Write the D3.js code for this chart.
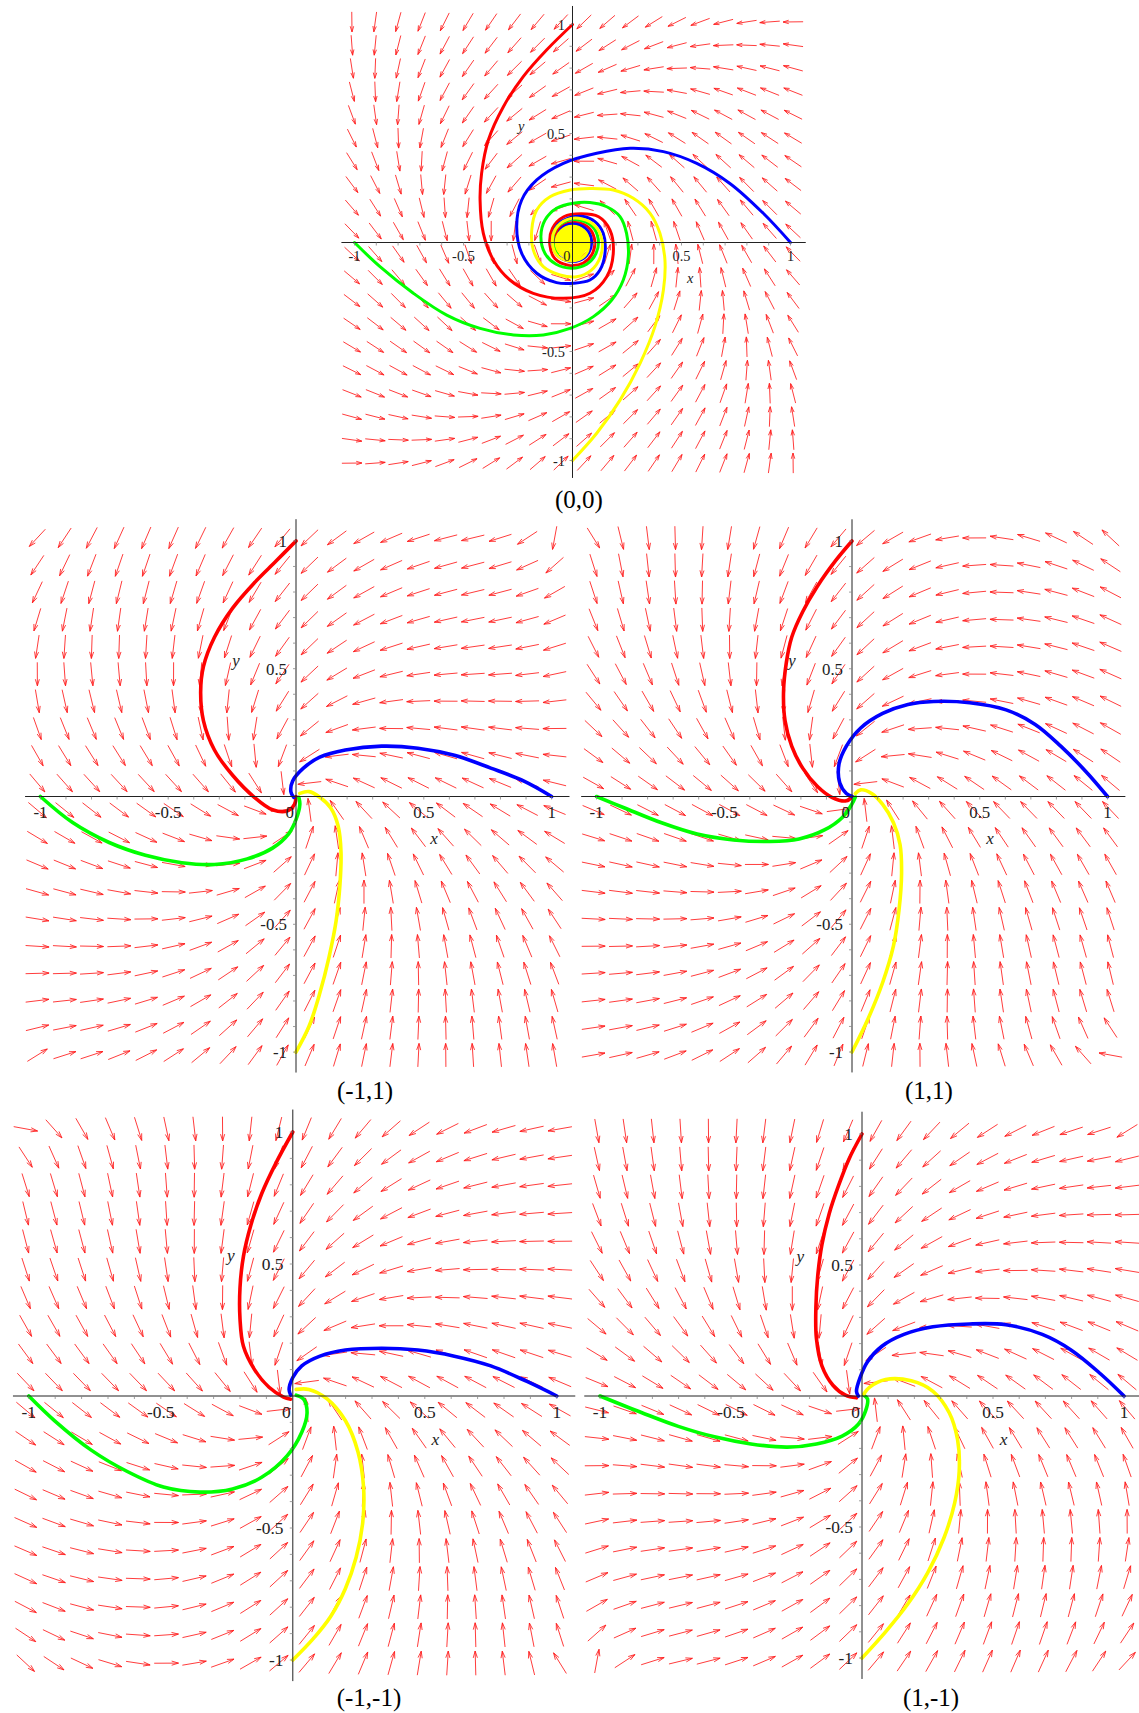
<!DOCTYPE html>
<html><head><meta charset="utf-8">
<script src="https://cdn.jsdelivr.net/npm/d3@7"></script>
<style>body{margin:0;background:#fff}</style>
</head><body>
<svg id="chart" width="1139" height="1713"></svg>
<script>
// ================= DATA =================
const captions = ["(0,0)", "(-1,1)", "(1,1)", "(-1,-1)", "(1,-1)"];
// quarter turns that map the (1,1) field onto each panel (panel 0 uses its own coefficients)
const quarterTurns = [null, 1, 0, 2, 3];
const xTickValues = [-1, -0.5, 0, 0.5, 1];
const xTickText = ["-1", "-0.5", "0", "0.5", "1"];
const yTickValues = [-1, -0.5, 0.5, 1];
const yTickText = ["-1", "-0.5", "0.5", "1"];
// direction-field sample positions (20 x 20)
const gridValues = [-1.012,-0.905,-0.799,-0.692,-0.586,-0.479,-0.373,-0.266,-0.160,-0.053,
                    0.053,0.160,0.266,0.373,0.479,0.586,0.692,0.799,0.905,1.012];
// field of panel (0,0):  monomials [x, y, x^2, xy, y^2, x^3, x^2y, xy^2, y^3]
const p0CoefX = [0, -1, 0, 0, 0, -1, 0, 0, 0];
const p0CoefY = [1, 0, 0, 0, 0, 0, 0, 0, -1];
// arrow directions (1,1): [x, y, angle deg]
const obsP2 = [
[0.05,1,225],[0.16,1,205],[0.27,1,195],[0.37,1,188],[0.48,1,182],[0.58,1,178],[0.69,1,165],[0.8,1,155],[0.91,1,150],
[0.05,0.48,222],[0.16,0.48,205],[0.27,0.48,193],[0.37,0.48,185],[0.48,0.48,180],[0.58,0.48,175],[0.69,0.48,165],[0.8,0.48,155],
[0.05,0.17,235],[0.16,0.17,190],[0.27,0.17,180],[0.37,0.17,170],[0.48,0.17,165],[0.58,0.17,160],[0.69,0.17,155],[0.8,0.17,145],
[0.16,0.05,165],[0.27,0.05,150],[0.37,0.05,150],[0.48,0.05,148],[0.58,0.05,145],[0.69,0.05,145],[0.8,0.05,145],
[0.05,-0.05,100],[0.16,-0.05,110],[0.27,-0.05,120],[0.37,-0.05,125],[0.48,-0.05,130],[0.58,-0.05,130],[0.69,-0.05,130],[0.8,-0.05,130],
[0.05,-0.27,60],[0.16,-0.27,75],[0.27,-0.27,85],[0.37,-0.27,95],[0.48,-0.27,100],[0.58,-0.27,105],[0.69,-0.27,110],[0.8,-0.27,115],
[0.05,-0.58,65],[0.16,-0.58,78],[0.27,-0.58,85],[0.37,-0.58,93],[0.48,-0.58,98],[0.58,-0.58,102],[0.69,-0.58,107],[0.8,-0.58,112],
[0.05,-0.8,65],[0.16,-0.8,78],[0.27,-0.8,85],[0.37,-0.8,92],[0.48,-0.8,97],[0.58,-0.8,100],[0.69,-0.8,105],[0.8,-0.8,110],
[-1,0.05,-38],[-0.8,0.05,-35],[-0.58,0.05,-35],[-0.37,0.05,-30],[-0.16,0.05,-30],
[-1,-0.16,-25],[-0.8,-0.16,-22],[-0.58,-0.16,-15],[-0.37,-0.16,-5],[-0.16,-0.16,10],
[-1,-0.27,-15],[-0.8,-0.27,-12],[-0.58,-0.27,-5],[-0.37,-0.27,5],[-0.16,-0.27,35],
[-1,-0.48,-5],[-0.8,-0.48,-3],[-0.58,-0.48,0],[-0.37,-0.48,15],[-0.16,-0.48,45],
[-1,-0.8,10],[-0.8,-0.8,12],[-0.58,-0.8,18],[-0.37,-0.8,30],[-0.16,-0.8,50],
[-1,1,-75],[-0.8,1,-80],[-0.58,1,-85],[-0.37,1,-95],[-0.27,1,-110],[-0.16,1,-120],
[-1,0.58,-55],[-0.8,0.58,-60],[-0.58,0.58,-70],[-0.37,0.58,-85],[-0.27,0.58,-95],[-0.16,0.58,-105],
[-1,0.16,-35],[-0.8,0.16,-38],[-0.58,0.16,-45],[-0.37,0.16,-60],[-0.27,0.16,-75],[-0.16,0.16,-90]
];
// arrow directions (-1,1)
const obsP1 = [
[0.05,0.99,225],[0.16,0.99,215],[0.26,0.99,210],[0.37,0.99,205],[0.48,0.99,205],[0.58,0.99,200],[0.69,0.99,198],[0.8,0.99,195],
[0.05,0.58,230],[0.16,0.58,215],[0.26,0.58,200],[0.37,0.58,192],[0.48,0.58,188],[0.58,0.58,185],[0.69,0.58,183],[0.8,0.58,182],
[0.05,0.37,230],[0.16,0.37,210],[0.26,0.37,190],[0.37,0.37,185],[0.48,0.37,180],[0.58,0.37,180],[0.69,0.37,180],[0.8,0.37,178],
[0.16,0.16,190],[0.26,0.16,172],[0.37,0.16,170],[0.48,0.16,168],[0.8,0.16,160],
[-1,-0.05,-40],[-0.7,-0.05,-35],[-0.38,-0.05,-25],[-0.17,-0.05,-20],
[-1,-0.15,-35],[-0.8,-0.15,-30],[-0.59,-0.15,-25],[-0.38,-0.15,-10],[-0.28,-0.15,-5],[-0.17,-0.15,5],
[-1,-0.26,-30],[-0.8,-0.26,-25],[-0.59,-0.26,-15],[-0.38,-0.26,-5],[-0.28,-0.26,5],[-0.17,-0.26,20],
[-1,-0.36,-20],[-0.8,-0.36,-15],[-0.59,-0.36,-8],[-0.49,-0.36,-3],[-0.38,-0.36,5],[-0.28,-0.36,20],[-0.17,-0.36,35],
[-1,-0.47,-12],[-0.8,-0.47,-8],[-0.59,-0.47,-3],[-0.38,-0.47,10],[-0.28,-0.47,25],[-0.17,-0.47,40],
[-1,-0.58,-5],[-0.8,-0.58,0],[-0.59,-0.58,5],[-0.38,-0.58,15],[-0.28,-0.58,30],[-0.17,-0.58,45],
[-1,-0.79,5],[-0.8,-0.79,8],[-0.59,-0.79,12],[-0.38,-0.79,25],[-0.28,-0.79,35],[-0.17,-0.79,50]
];

// ---- trajectories (red from (0,1), blue from (1,0), green from (-1,0), yellow from (0,-1)) ----
const p0Red = [[0,1],[-0.119,0.883],[-0.226,0.761],[-0.317,0.623],[-0.386,0.470],[-0.417,0.317],[-0.424,0.195],[-0.409,0.042],[-0.363,-0.080],[-0.287,-0.172],[-0.180,-0.233],[-0.042,-0.256],[0.080,-0.233],[0.157,-0.157],[0.187,-0.050],[0.172,0.057],[0.120,0.118],[0.040,0.132],[-0.040,0.118],[-0.092,0.065],[-0.104,-0.010],[-0.080,-0.075],[-0.020,-0.104],[0.050,-0.094],[0.094,-0.045],[0.100,0.020],[0.070,0.072],[0.010,0.092],[-0.050,0.073],[-0.083,0.020],[-0.078,-0.040]];
const p0Blue = [[1,0],[0.875,0.134],[0.722,0.271],[0.570,0.363],[0.417,0.417],[0.264,0.432],[0.111,0.409],[-0.042,0.363],[-0.164,0.287],[-0.233,0.195],[-0.256,0.073],[-0.233,-0.050],[-0.164,-0.141],[-0.073,-0.184],[0.004,-0.187],[0.080,-0.172],[0.126,-0.126],[0.149,-0.050],[0.141,0.042],[0.103,0.096],[0.050,0.119],[-0.020,0.112],[-0.072,0.076],[-0.090,0.015],[-0.077,-0.048],[-0.030,-0.082],[0.032,-0.082],[0.076,-0.044],[0.086,0.018],[0.058,0.066],[0.000,0.085],[-0.052,0.062],[-0.072,0.005]];
const p0Green = [[-1,0],[-0.883,-0.111],[-0.730,-0.233],[-0.577,-0.333],[-0.424,-0.394],[-0.271,-0.424],[-0.134,-0.424],[-0.011,-0.394],[0.096,-0.340],[0.180,-0.264],[0.233,-0.172],[0.256,-0.065],[0.248,0.042],[0.218,0.119],[0.157,0.164],[0.080,0.183],[0.004,0.180],[-0.073,0.157],[-0.126,0.103],[-0.145,0.027],[-0.126,-0.050],[-0.075,-0.100],[-0.005,-0.118],[0.065,-0.100],[0.108,-0.050],[0.118,0.015],[0.092,0.072],[0.035,0.102],[-0.030,0.098],[-0.078,0.060],[-0.090,0.000],[-0.068,-0.052]];
const p0Yellow = [[0,-1],[0.111,-0.875],[0.218,-0.723],[0.310,-0.554],[0.378,-0.386],[0.417,-0.218],[0.424,-0.080],[0.401,0.042],[0.356,0.134],[0.279,0.203],[0.187,0.241],[0.080,0.248],[-0.011,0.241],[-0.103,0.210],[-0.164,0.149],[-0.187,0.057],[-0.180,-0.034],[-0.134,-0.111],[-0.057,-0.149],[0.019,-0.157],[0.085,-0.128],[0.128,-0.065],[0.135,0.010],[0.105,0.075],[0.045,0.108],[-0.025,0.105],[-0.078,0.062],[-0.092,-0.005],[-0.068,-0.062],[-0.005,-0.085],[0.055,-0.062],
[0.075,0],[0.053,0.053],[0,0.075],[-0.053,0.053],[-0.075,0],[-0.053,-0.053],[0,-0.075],[0.045,-0.05],[0.064,0],[0.045,0.045],[0,0.063],[-0.045,0.045],[-0.063,0],[-0.045,-0.045],[0,-0.062],[0.036,-0.04],[0.052,0],[0.037,0.037],[0,0.051],[-0.036,0.036],[-0.05,0],[-0.035,-0.035],[0,-0.049],[0.028,-0.03],[0.04,0],[0.028,0.028],[0,0.039],[-0.027,0.027],[-0.038,0],[-0.026,-0.026],[0,-0.036],[0.02,-0.02],[0.028,0],[0.018,0.02],[0,0.026],[-0.018,0.018],[-0.025,0],[-0.016,-0.016],[0,-0.022],[0.012,-0.012],[0.015,0],[0.008,0.012],[0,0.013],[-0.01,0.008],[-0.01,-0.005],[0,-0.008],[0.004,0]];

const p1Red = [[0,1],[-0.077,0.922],[-0.163,0.836],[-0.248,0.737],[-0.319,0.623],[-0.362,0.509],[-0.373,0.410],[-0.362,0.296],[-0.319,0.182],[-0.248,0.083],[-0.163,-0.003],[-0.092,-0.052],[-0.035,-0.057],[-0.006,-0.031],[0,0]];
const p1Blue = [[1,0],[0.890,0.061],[0.762,0.111],[0.620,0.161],[0.477,0.189],[0.335,0.197],[0.193,0.182],[0.093,0.154],[0.029,0.111],[-0.013,0.061],[-0.020,0.019],[-0.009,-0.003]];
const p1Green = [[-1,0],[-0.874,-0.102],[-0.731,-0.180],[-0.589,-0.230],[-0.447,-0.259],[-0.319,-0.266],[-0.191,-0.244],[-0.092,-0.202],[-0.028,-0.145],[0.001,-0.088],[0.015,-0.031],[0.011,-0.003]];
const p1Yellow = [[0,-1],[0.051,-0.899],[0.093,-0.770],[0.129,-0.629],[0.157,-0.486],[0.172,-0.344],[0.176,-0.216],[0.165,-0.116],[0.136,-0.045],[0.093,-0.003],[0.051,0.019],[0.015,0.012]];

const p2Red = [[0,1],[-0.065,0.922],[-0.136,0.822],[-0.193,0.723],[-0.236,0.623],[-0.257,0.524],[-0.268,0.410],[-0.262,0.296],[-0.236,0.197],[-0.193,0.111],[-0.136,0.040],[-0.079,-0.003],[-0.022,-0.017],[0,0]];
const p2Blue = [[1,0],[0.916,0.097],[0.817,0.197],[0.717,0.282],[0.603,0.339],[0.461,0.367],[0.319,0.372],[0.219,0.360],[0.120,0.325],[0.034,0.268],[-0.022,0.197],[-0.051,0.126],[-0.048,0.054],[-0.022,0.012],[0,0]];
const p2Green = [[-1,0],[-0.890,-0.045],[-0.748,-0.102],[-0.606,-0.147],[-0.464,-0.170],[-0.321,-0.176],[-0.207,-0.166],[-0.108,-0.131],[-0.037,-0.081],[-0.001,-0.031],[0.013,-0.002]];
const p2Yellow = [[0,-1],[0.063,-0.870],[0.120,-0.728],[0.162,-0.586],[0.184,-0.444],[0.194,-0.301],[0.188,-0.188],[0.162,-0.102],[0.120,-0.031],[0.077,0.012],[0.034,0.026],[0.013,0.012]];

const p3Red = [[0,1],[-0.063,0.884],[-0.118,0.766],[-0.159,0.647],[-0.187,0.529],[-0.200,0.410],[-0.200,0.292],[-0.187,0.188],[-0.145,0.100],[-0.090,0.033],[-0.035,-0.004],[-0.008,-0.012]];
const p3Blue = [[1,0],[0.887,0.055],[0.750,0.114],[0.612,0.151],[0.474,0.174],[0.337,0.181],[0.199,0.174],[0.103,0.151],[0.034,0.114],[0.000,0.070],[-0.014,0.025],[-0.008,0.003]];
const p3Green = [[-1,0],[-0.903,-0.093],[-0.765,-0.204],[-0.627,-0.286],[-0.490,-0.345],[-0.352,-0.364],[-0.228,-0.352],[-0.118,-0.308],[-0.021,-0.226],[0.034,-0.137],[0.054,-0.064],[0.041,-0.012],[0.013,0.003]];
const p3Yellow = [[0,-1],[0.075,-0.922],[0.144,-0.834],[0.199,-0.730],[0.240,-0.611],[0.265,-0.478],[0.268,-0.345],[0.247,-0.212],[0.199,-0.093],[0.130,-0.011],[0.061,0.025],[0.013,0.025]];

const p4Red = [[0,1],[-0.049,0.906],[-0.090,0.802],[-0.125,0.697],[-0.153,0.578],[-0.169,0.458],[-0.176,0.339],[-0.174,0.220],[-0.153,0.115],[-0.111,0.041],[-0.063,0.003],[-0.021,-0.007]];
const p4Blue = [[1,0],[0.910,0.085],[0.799,0.175],[0.688,0.235],[0.549,0.272],[0.410,0.275],[0.271,0.264],[0.160,0.235],[0.076,0.190],[0.021,0.131],[-0.007,0.071],[-0.021,0.018],[-0.014,0]];
const p4Green = [[-1,0],[-0.840,-0.064],[-0.701,-0.116],[-0.563,-0.156],[-0.424,-0.183],[-0.285,-0.195],[-0.174,-0.183],[-0.076,-0.153],[-0.014,-0.108],[0.014,-0.056],[0.021,-0.011],[0.007,0.003]];
const p4Yellow = [[0,-1],[0.090,-0.900],[0.174,-0.795],[0.250,-0.676],[0.313,-0.541],[0.354,-0.407],[0.371,-0.288],[0.365,-0.168],[0.333,-0.064],[0.271,0.018],[0.188,0.058],[0.090,0.063],[0.028,0.033],[0.007,0.008]];

const curveColors = ["#ff0000", "#0000ff", "#00ff00", "#ffff00"];
const panelCurves = [
  [p0Red, p0Blue, p0Green, p0Yellow],
  [p1Red, p1Blue, p1Green, p1Yellow],
  [p2Red, p2Blue, p2Green, p2Yellow],
  [p3Red, p3Blue, p3Green, p3Yellow],
  [p4Red, p4Blue, p4Green, p4Yellow]
];

// ================= LAYOUT =================
const layout = [
  {cx: 572.5, cy: 242.5, u: 218,   capX: 579, capY: 499,  lw: 3.0},
  {cx: 296,   cy: 796.5, u: 255.6, capX: 365, capY: 1090, lw: 3.6},
  {cx: 852,   cy: 796.5, u: 255.5, capX: 929, capY: 1090, lw: 3.6},
  {cx: 292.8, cy: 1396,  u: 264,   capX: 369, capY: 1697, lw: 3.6},
  {cx: 862,   cy: 1396,  u: 262,   capX: 931, capY: 1697, lw: 3.6}
];
const axisX = [-1.06, 1.07], axisY = [-1.08, 1.085];

// ================= FIELD FIT =================
function monos(x, y) { return [x, y, x*x, x*y, y*y, x*x*x, x*x*y, x*y*y, y*y*y]; }
function evalPoly(cx, cy, x, y) {
  const m = monos(x, y); let fx = 0, fy = 0;
  for (let k = 0; k < 9; k++) { fx += cx[k]*m[k]; fy += cy[k]*m[k]; }
  return [fx, fy];
}
function rotQ(x, y, k) { k = ((k % 4) + 4) % 4; for (let i = 0; i < k; i++) { const t = x; x = -y; y = t; } return [x, y]; }
function solve(A, b) {
  const n = b.length; const M = A.map((r, i) => [...r, b[i]]);
  for (let c = 0; c < n; c++) {
    let p = c; for (let r = c+1; r < n; r++) if (Math.abs(M[r][c]) > Math.abs(M[p][c])) p = r;
    [M[c], M[p]] = [M[p], M[c]];
    for (let r = c+1; r < n; r++) { const f = M[r][c]/M[c][c]; for (let j = c; j <= n; j++) M[r][j] -= f*M[c][j]; }
  }
  const x = new Array(n).fill(0);
  for (let r = n-1; r >= 0; r--) { let s = M[r][n]; for (let j = r+1; j < n; j++) s -= M[r][j]*x[j]; x[r] = s/M[r][r]; }
  return x;
}
function fitField(samples) {
  const freeX = [0,2,3,4,5,6,7,8], freeY = [1,2,3,4,5,6,7,8];
  let cx = [-1,-1,0,0,0,-1,0,0,0], cy = [1,-1,0,0,0,0,0,0,-1];
  const n = 16;
  for (let it = 0; it < 10; it++) {
    const A = Array.from({length: n}, () => new Array(n).fill(0)); const b = new Array(n).fill(0);
    for (const [x, y, deg] of samples) {
      const th = deg*Math.PI/180, c = Math.cos(th), s = Math.sin(th);
      const m = monos(x, y);
      const [fx, fy] = evalPoly(cx, cy, x, y);
      const mag = Math.hypot(fx, fy) + 1e-3;
      const w = 1/(mag*mag);
      const r1 = new Array(n).fill(0), r2 = new Array(n).fill(0);
      freeX.forEach((k, i) => { r1[i] = m[k]*s; r2[i] = m[k]*c; });
      freeY.forEach((k, i) => { r1[8+i] = -m[k]*c; r2[8+i] = m[k]*s; });
      const t1 = y*s + x*c;           // cross-product condition
      const t2 = mag - (-y*c + x*s);  // along-direction condition
      const w2 = 0.05*w;
      for (let i = 0; i < n; i++) {
        b[i] += w*r1[i]*t1 + w2*r2[i]*t2;
        for (let j = 0; j < n; j++) A[i][j] += w*r1[i]*r1[j] + w2*r2[i]*r2[j];
      }
    }
    for (let i = 0; i < n; i++) A[i][i] += 0.02;
    const sol = solve(A, b);
    const ncx = [...cx], ncy = [...cy];
    freeX.forEach((k, i) => ncx[k] = sol[i]);
    freeY.forEach((k, i) => ncy[k] = sol[8+i]);
    cx = ncx; cy = ncy;
  }
  return {cx, cy};
}
// gather samples in the (1,1) frame
const samples = [];
obsP2.forEach(d => samples.push(d));
obsP1.forEach(([x, y, a]) => { const q = rotQ(x, y, -1); samples.push([q[0], q[1], a - 90]); });
const fit = fitField(samples);
function fieldFor(pi) {
  if (pi === 0) return (x, y) => evalPoly(p0CoefX, p0CoefY, x, y);
  const k = quarterTurns[pi];
  return (x, y) => { const q = rotQ(x, y, -k); const f = evalPoly(fit.cx, fit.cy, q[0], q[1]); return rotQ(f[0], f[1], k); };
}

// ================= DRAW =================
const svg = d3.select("#chart");
svg.append("rect").attr("width", 1139).attr("height", 1713).attr("fill", "#fff");
const serif = "'Liberation Serif', 'Times New Roman', serif";

layout.forEach((L, pi) => {
  const sx = d3.scaleLinear().domain([-1, 1]).range([L.cx - L.u, L.cx + L.u]);
  const sy = d3.scaleLinear().domain([-1, 1]).range([L.cy + L.u, L.cy - L.u]);
  const g = svg.append("g");
  const F = fieldFor(pi);
  // direction field
  const half = 0.046*L.u, head = 0.027*L.u, ha = 17*Math.PI/180;
  let dstr = "";
  gridValues.forEach(gx => gridValues.forEach(gy => {
    const [fx, fy] = F(gx, gy);
    const mg = Math.hypot(fx, fy) || 1;
    const ux = fx/mg, uy = -fy/mg;
    const px = sx(gx), py = sy(gy);
    const tx = px + ux*half, ty = py + uy*half, bx = px - ux*half, by = py - uy*half;
    const ang = Math.atan2(uy, ux);
    const h1x = tx - head*Math.cos(ang - ha), h1y = ty - head*Math.sin(ang - ha);
    const h2x = tx - head*Math.cos(ang + ha), h2y = ty - head*Math.sin(ang + ha);
    dstr += `M${bx.toFixed(2)},${by.toFixed(2)}L${tx.toFixed(2)},${ty.toFixed(2)}M${h1x.toFixed(2)},${h1y.toFixed(2)}L${tx.toFixed(2)},${ty.toFixed(2)}L${h2x.toFixed(2)},${h2y.toFixed(2)}`;
  }));
  g.append("path").attr("d", dstr).attr("fill", "none").attr("stroke", "#ff1a1a")
    .attr("stroke-width", 1).attr("stroke-opacity", 0.85).attr("stroke-linejoin", "miter");

  // trajectories
  const line = d3.line().x(d => sx(d[0])).y(d => sy(d[1])).curve(d3.curveCatmullRom.alpha(0.5));
  panelCurves[pi].forEach((pts, ci) => {
    g.append("path").attr("d", line(pts)).attr("fill", "none").attr("stroke", curveColors[ci])
      .attr("stroke-width", L.lw).attr("stroke-linecap", "round").attr("stroke-linejoin", "round");
  });

  // axes
  g.append("line").attr("x1", sx(axisX[0])).attr("x2", sx(axisX[1])).attr("y1", sy(0)).attr("y2", sy(0))
    .attr("stroke", "#222").attr("stroke-width", 1);
  g.append("line").attr("x1", sx(0)).attr("x2", sx(0)).attr("y1", sy(axisY[0])).attr("y2", sy(axisY[1]))
    .attr("stroke", "#222").attr("stroke-width", 1);
  const minor = d3.range(-10, 11).filter(v => v !== 0).map(v => v/10);
  minor.forEach(v => {
    g.append("line").attr("x1", sx(v)).attr("x2", sx(v)).attr("y1", sy(0)).attr("y2", sy(0) + 3)
      .attr("stroke", "#888").attr("stroke-width", 0.8);
    g.append("line").attr("x1", sx(0) - 3).attr("x2", sx(0)).attr("y1", sy(v)).attr("y2", sy(v))
      .attr("stroke", "#888").attr("stroke-width", 0.8);
  });

  // tick labels
  const fs = 0.066*L.u;
  xTickValues.forEach((v, i) => {
    const isZero = v === 0;
    g.append("text").attr("x", isZero ? sx(0) - 2 : sx(v)).attr("y", sy(0) + 0.085*L.u)
      .attr("text-anchor", isZero ? "end" : "middle").attr("font-family", serif).attr("font-size", fs)
      .attr("fill", "#222").text(xTickText[i]);
  });
  yTickValues.forEach((v, i) => {
    g.append("text").attr("x", sx(0) - 0.035*L.u).attr("y", sy(v)).attr("dy", "0.35em")
      .attr("text-anchor", "end").attr("font-family", serif).attr("font-size", fs)
      .attr("fill", "#222").text(yTickText[i]);
  });
  g.append("text").attr("x", sx(0.54)).attr("y", sy(-0.167)).attr("dy", "0.3em").attr("text-anchor", "middle")
    .attr("font-family", serif).attr("font-style", "italic").attr("font-size", fs).attr("fill", "#222").text("x");
  g.append("text").attr("x", sx(-0.235)).attr("y", sy(0.53)).attr("dy", "0.3em").attr("text-anchor", "middle")
    .attr("font-family", serif).attr("font-style", "italic").attr("font-size", fs).attr("fill", "#222").text("y");
  // caption
  svg.append("text").attr("x", L.capX).attr("y", L.capY).attr("dy", "0.35em").attr("text-anchor", "middle")
    .attr("font-family", serif).attr("font-size", 25).attr("fill", "#000").text(captions[pi]);
});
</script>
</body></html>
